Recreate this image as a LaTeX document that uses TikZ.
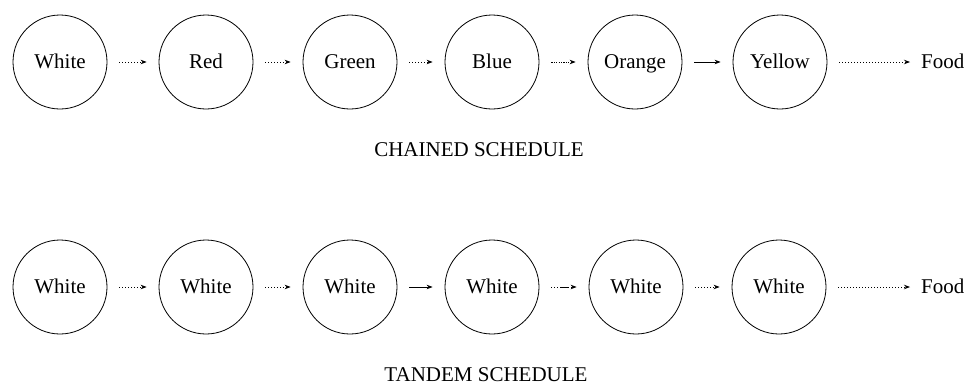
\documentclass[tikz,border=0pt]{standalone}
\usepackage{fontspec}
\setmainfont{Liberation Serif}
\usetikzlibrary{arrows.meta}
\begin{document}
\begin{tikzpicture}[x=1pt,y=-1pt,
  stim/.style={circle,draw,line width=0.8pt,minimum size=94pt,inner sep=0pt,
    text height=15pt,text depth=2pt,font=\fontsize{21}{24}\selectfont},
  goal/.style={inner sep=0pt,anchor=west,text height=15pt,text depth=2pt,
    font=\fontsize{21}{24}\selectfont},
  caption/.style={inner sep=0pt,font=\fontsize{21}{24}\selectfont},
  link/.style={line width=0.8pt,-{Stealth[length=6pt,width=4.5pt]},shorten <=12pt,shorten >=12pt},
  dotlink/.style={link,dash pattern=on 1pt off 2pt},
  denselink/.style={link,dash pattern=on 1.2pt off 1.2pt},
  dotdashlink/.style={link,dash pattern=on 1pt off 2pt on 1pt off 2pt on 1pt off 2pt on 8pt off 0pt}]
\useasboundingbox (0,0) rectangle (971,386);

% chained schedule
\node[stim] (c1) at (60,62) {White};
\node[stim] (c2) at (206,62) {Red};
\node[stim] (c3) at (350,62) {Green};
\node[stim] (c4) at (492,62) {Blue};
\node[stim] (c5) at (635,62) {Orange};
\node[stim] (c6) at (780,62) {Yellow};
\node[goal] (cf) at (921,62) {Food};
\draw[dotlink] (c1) -- (c2);
\draw[dotlink] (c2) -- (c3);
\draw[dotlink] (c3) -- (c4);
\draw[denselink] (c4) -- (c5);
\draw[link] (c5) -- (c6);
\draw[dotlink,shorten >=11pt] (c6) -- (cf);
\node[caption] (ct) at (479,150) {CHAINED SCHEDULE};

% tandem schedule
\node[stim] (t1) at (60,287) {White};
\node[stim] (t2) at (206,287) {White};
\node[stim] (t3) at (350,287) {White};
\node[stim] (t4) at (492,287) {White};
\node[stim] (t5) at (636,287) {White};
\node[stim] (t6) at (779,287) {White};
\node[goal] (tf) at (921,287) {Food};
\draw[dotlink] (t1) -- (t2);
\draw[dotlink] (t2) -- (t3);
\draw[link] (t3) -- (t4);
\draw[dotdashlink] (t4) -- (t5);
\draw[dotlink] (t5) -- (t6);
\draw[dotlink,shorten >=11pt] (t6) -- (tf);
\node[caption] (tt) at (486,375) {TANDEM SCHEDULE};
\end{tikzpicture}
\end{document}
